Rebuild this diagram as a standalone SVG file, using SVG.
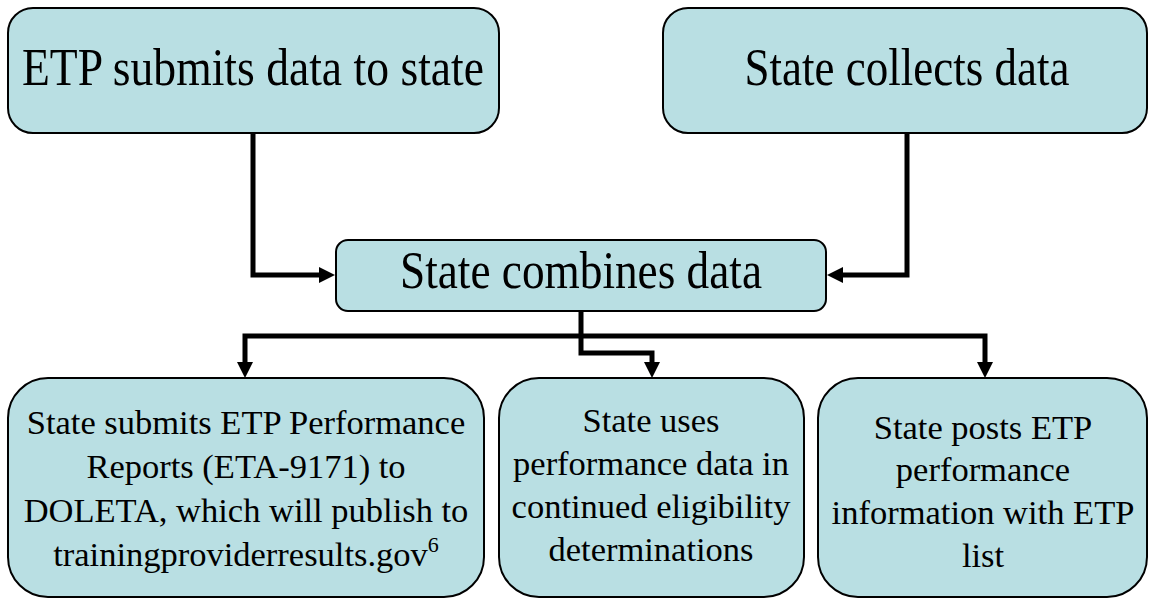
<svg xmlns="http://www.w3.org/2000/svg" width="1149" height="599" viewBox="0 0 1149 599">
<style>
.box{fill:#b9dfe3;stroke:#000;stroke-width:2}
.con{fill:none;stroke:#000;stroke-width:5;stroke-linejoin:miter}
text{font-family:"Liberation Serif","Times New Roman",serif;fill:#000;text-anchor:middle}
.big{font-size:53px}
.sm{font-size:34.5px}
</style>
<defs>
<marker id="ah" markerUnits="userSpaceOnUse" markerWidth="16" markerHeight="16" refX="4" refY="8" orient="auto"><path d="M0,0 L16,8 L0,16 z" fill="#000"/></marker>
</defs>
<rect width="1149" height="599" fill="#fff"/>
<g id="connectors">
<path class="con" d="M253,133 V275 H323" marker-end="url(#ah)"/>
<path class="con" d="M907,133 V275 H839" marker-end="url(#ah)"/>
<path class="con" d="M581,311 V353 H652 V366" marker-end="url(#ah)"/>
<path class="con" d="M581,336 H245 V366" marker-end="url(#ah)"/>
<path class="con" d="M581,336 H985 V366" marker-end="url(#ah)"/>
</g>
<g id="etp-submits">
<rect class="box" x="8" y="8" width="491" height="125" rx="25"/>
<text class="big" x="253" y="85" textLength="462" lengthAdjust="spacingAndGlyphs">ETP submits data to state</text>
</g>
<g id="state-collects">
<rect class="box" x="663" y="8" width="484" height="125" rx="25"/>
<text class="big" x="907" y="85" textLength="325" lengthAdjust="spacingAndGlyphs">State collects data</text>
</g>
<g id="state-combines">
<rect class="box" x="336" y="240" width="490" height="71" rx="12"/>
<text class="big" x="581" y="288" textLength="362" lengthAdjust="spacingAndGlyphs">State combines data</text>
</g>
<g id="state-submits">
<rect class="box" x="8" y="378" width="476" height="219" rx="40"/>
<text class="sm" x="246" y="434">State submits ETP Performance</text>
<text class="sm" x="246" y="478">Reports (ETA-9171) to</text>
<text class="sm" x="246" y="522">DOLETA, which will publish to</text>
<text class="sm" x="246" y="566">trainingproviderresults.gov<tspan font-size="22" dy="-14">6</tspan></text>
</g>
<g id="state-uses">
<rect class="box" x="499" y="378" width="305" height="219" rx="40"/>
<text class="sm" x="651" y="432">State uses</text>
<text class="sm" x="651" y="475">performance data in</text>
<text class="sm" x="651" y="518">continued eligibility</text>
<text class="sm" x="651" y="561">determinations</text>
</g>
<g id="state-posts">
<rect class="box" x="818" y="378" width="329" height="219" rx="40"/>
<text class="sm" x="983" y="439">State posts ETP</text>
<text class="sm" x="983" y="481">performance</text>
<text class="sm" x="983" y="524">information with ETP</text>
<text class="sm" x="983" y="567">list</text>
</g>
</svg>
